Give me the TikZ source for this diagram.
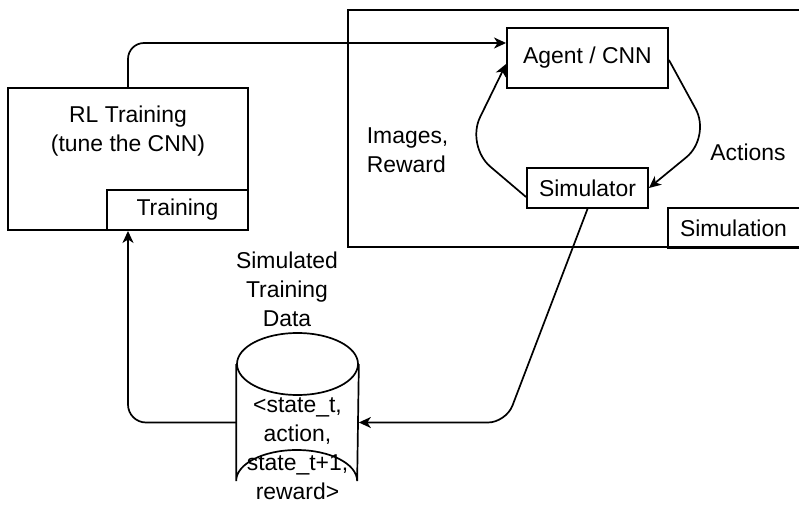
\documentclass[tikz,border=0pt]{standalone}
\usepackage{fontspec}
\setmainfont{Liberation Sans}
\usetikzlibrary{arrows.meta,calc}
\begin{document}
\begin{tikzpicture}[x=1bp,y=-1bp,
  line width=1.7bp,
  txt/.style={font=\fontsize{23}{29}\selectfont, align=center, inner sep=0pt},
  box/.style={draw, line width=1.9bp, inner sep=0pt, font=\fontsize{23}{29}\selectfont, align=center},
  arr/.style={-{Stealth[length=12bp,width=11bp,inset=3.5bp]}},
]
\useasboundingbox (0,0) rectangle (799,512);
\clip (0,0) rectangle (799,512);

% Training container
\node[box, minimum width=240bp, minimum height=142bp] (train) at (128,159) {};
\node[txt] (traintxt) at (128,131.5) {RL Training\\(tune the CNN)};
\node[box, minimum width=141bp, minimum height=40bp] (trainlbl) at (177.5,210) {Training};

% Simulation container
\node[box, minimum width=460bp, minimum height=237bp] (simc) at (578,128.5) {};
\node[box, minimum width=140bp, minimum height=40bp] (simlbl) at (738,228) {\hspace*{-9bp}Simulation};

\node[box, minimum width=161bp, minimum height=60bp] (agent) at (587.5,58) {Agent / CNN};
\node[box, minimum width=121bp, minimum height=40bp] (simulator) at (587.5,188) {Simulator};

\node[txt, align=left, anchor=west] (imgs) at (366,150) {Images,\\Reward};
\node[txt] (acts) at (748,152) {Actions};

% Cylinder
\node[minimum width=121bp, minimum height=179bp, inner sep=0pt] (cyl) at (297.5,422.5) {};
\draw (cyl.west |- 0,364) -- (cyl.west |- 0,481)
      arc[start angle=180, end angle=360, x radius=60.5, y radius=31]
      -- (cyl.east |- 0,364);
\draw (297.5,364) ellipse [x radius=60.5, y radius=31];
\node[txt] (cyltxt) at (297.5,449) {<state\_t,\\action,\\state\_t+1,\\reward>};
\node[txt] (cyllbl) at (287,289.5) {Simulated\\Training\\Data};

% Connectors
\draw[arr, rounded corners=16bp] (train.north) |- ($(agent.west)+(0,-15)$);
\draw[arr, rounded corners=32bp] ($(simulator.west)+(0,9)$) -- (466,146) -- ($(agent.west)+(0,6)$);
\draw[arr, rounded corners=32bp] ($(agent.east)+(0,2)$) -- (711,137) -- (simulator.east);
\draw[arr, rounded corners=18bp] (simulator.south) -- (506,422.5) -- (cyl.east);
\draw[arr, rounded corners=18bp] (cyl.west) -| (train.south);
\end{tikzpicture}
\end{document}
